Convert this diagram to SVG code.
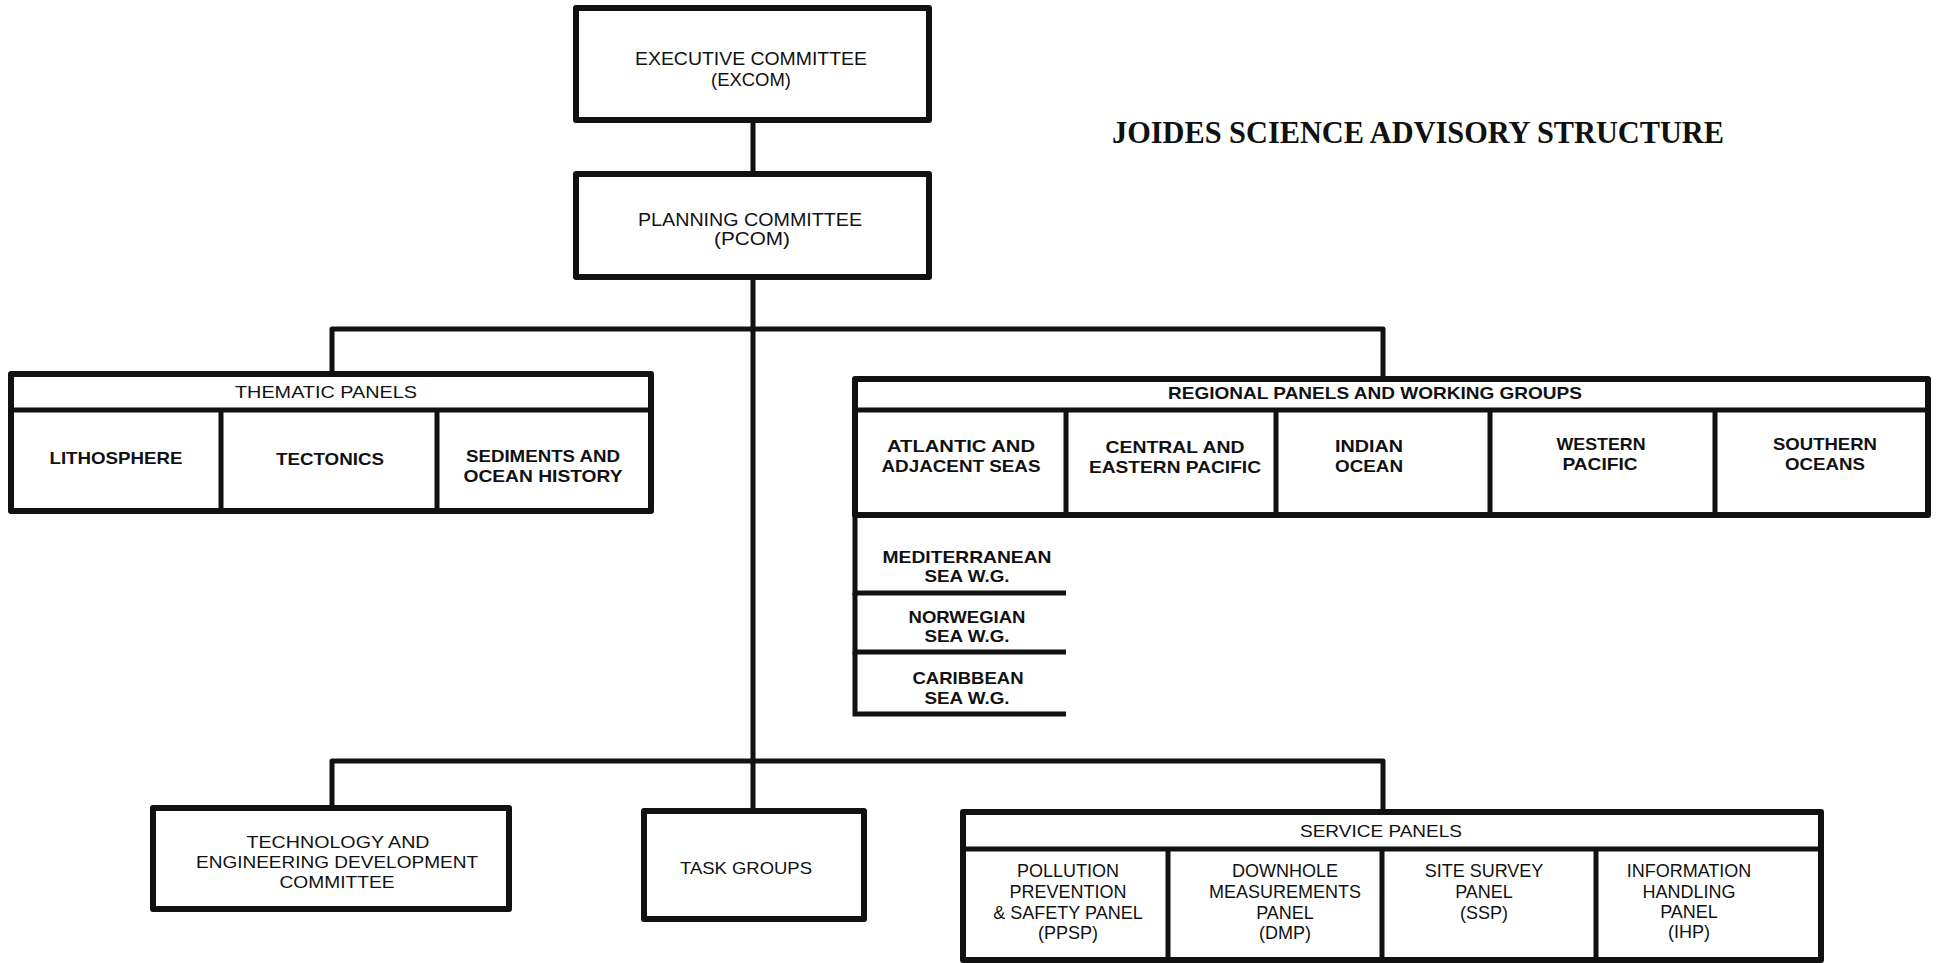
<svg xmlns="http://www.w3.org/2000/svg" width="1938" height="963" viewBox="0 0 1938 963">
<style>
.bx{fill:#fff;stroke:#111;stroke-width:6;stroke-linejoin:round}
.ln{fill:none;stroke:#111;stroke-width:5;stroke-linejoin:round}
.dv{fill:none;stroke:#111;stroke-width:5}
text{font-family:"Liberation Sans",Arial,sans-serif;font-size:17px;fill:#111;text-anchor:middle}
.b{font-weight:bold}
.s{font-size:18px}
.title{font-family:"Liberation Serif","Times New Roman",serif;font-size:31px;font-weight:bold}
</style>
<rect width="1938" height="963" fill="#fff"/>

<g id="connectors">
<path class="ln" d="M753,120 V174"/>
<path class="ln" d="M753,277 V811"/>
<path class="ln" d="M332,376 V329 H1383 V380"/>
<path class="ln" d="M332,808 V761 H1383 V812"/>
</g>

<g id="excom">
<rect class="bx" x="576" y="8" width="353" height="112"/>
<text x="751" y="65" textLength="232" lengthAdjust="spacingAndGlyphs" style="font-size:18px">EXECUTIVE COMMITTEE</text>
<text x="751" y="86" textLength="80" lengthAdjust="spacingAndGlyphs" style="font-size:18px">(EXCOM)</text>
</g>

<g id="pcom">
<rect class="bx" x="576" y="174" width="353" height="103"/>
<text x="750" y="226" textLength="224" lengthAdjust="spacingAndGlyphs" style="font-size:18px">PLANNING COMMITTEE</text>
<text x="752" y="245" textLength="76" lengthAdjust="spacingAndGlyphs" style="font-size:18px">(PCOM)</text>
</g>

<g id="thematic-panels">
<rect class="bx" x="11" y="374" width="640" height="137"/>
<path class="dv" d="M11,410 H651 M221,410 V511 M437,410 V511"/>
<text x="326" y="398" textLength="182" lengthAdjust="spacingAndGlyphs">THEMATIC PANELS</text>
<g id="lithosphere"><text class="b" x="116" y="464" textLength="133" lengthAdjust="spacingAndGlyphs">LITHOSPHERE</text></g>
<g id="tectonics"><text class="b" x="330" y="465" textLength="108" lengthAdjust="spacingAndGlyphs">TECTONICS</text></g>
<g id="sediments"><text class="b" x="543" y="462" textLength="154" lengthAdjust="spacingAndGlyphs">SEDIMENTS AND</text>
<text class="b" x="543" y="482" textLength="159" lengthAdjust="spacingAndGlyphs">OCEAN HISTORY</text></g>
</g>

<g id="regional-panels">
<rect class="bx" x="855" y="379" width="1073" height="136"/>
<path class="dv" d="M855,410 H1928 M1066,410 V515 M1276,410 V515 M1490,410 V515 M1715,410 V515"/>
<text class="b" x="1375" y="399" textLength="414" lengthAdjust="spacingAndGlyphs">REGIONAL PANELS AND WORKING GROUPS</text>
<g id="atlantic"><text class="b" x="961" y="452" textLength="148" lengthAdjust="spacingAndGlyphs">ATLANTIC AND</text>
<text class="b" x="961" y="472" textLength="159" lengthAdjust="spacingAndGlyphs">ADJACENT SEAS</text></g>
<g id="central-eastern-pacific"><text class="b" x="1175" y="453" textLength="139" lengthAdjust="spacingAndGlyphs">CENTRAL AND</text>
<text class="b" x="1175" y="473" textLength="172" lengthAdjust="spacingAndGlyphs">EASTERN PACIFIC</text></g>
<g id="indian"><text class="b" x="1369" y="452" textLength="68" lengthAdjust="spacingAndGlyphs">INDIAN</text>
<text class="b" x="1369" y="472" textLength="68" lengthAdjust="spacingAndGlyphs">OCEAN</text></g>
<g id="western-pacific"><text class="b" x="1601" y="450" textLength="89" lengthAdjust="spacingAndGlyphs">WESTERN</text>
<text class="b" x="1600" y="470" textLength="75" lengthAdjust="spacingAndGlyphs">PACIFIC</text></g>
<g id="southern"><text class="b" x="1825" y="450" textLength="104" lengthAdjust="spacingAndGlyphs">SOUTHERN</text>
<text class="b" x="1825" y="470" textLength="80" lengthAdjust="spacingAndGlyphs">OCEANS</text></g>
</g>

<g id="wg-mediterranean">
<path class="dv" d="M855,515 V593 H1066"/>
<text class="b" x="967" y="563" textLength="169" lengthAdjust="spacingAndGlyphs">MEDITERRANEAN</text>
<text class="b" x="967" y="582" textLength="85" lengthAdjust="spacingAndGlyphs">SEA W.G.</text>
</g>
<g id="wg-norwegian">
<path class="dv" d="M855,593 V652 H1066"/>
<text class="b" x="967" y="623" textLength="117" lengthAdjust="spacingAndGlyphs">NORWEGIAN</text>
<text class="b" x="967" y="642" textLength="85" lengthAdjust="spacingAndGlyphs">SEA W.G.</text>
</g>
<g id="wg-caribbean">
<path class="dv" d="M855,652 V714 H1066"/>
<text class="b" x="968" y="684" textLength="111" lengthAdjust="spacingAndGlyphs">CARIBBEAN</text>
<text class="b" x="967" y="704" textLength="85" lengthAdjust="spacingAndGlyphs">SEA W.G.</text>
</g>

<g id="ted">
<rect class="bx" x="153" y="808" width="356" height="101"/>
<text x="338" y="848" textLength="183" lengthAdjust="spacingAndGlyphs">TECHNOLOGY AND</text>
<text x="337" y="868" textLength="282" lengthAdjust="spacingAndGlyphs">ENGINEERING DEVELOPMENT</text>
<text x="337" y="888" textLength="115" lengthAdjust="spacingAndGlyphs">COMMITTEE</text>
</g>

<g id="task-groups">
<rect class="bx" x="644" y="811" width="220" height="108"/>
<text x="746" y="874" textLength="132" lengthAdjust="spacingAndGlyphs">TASK GROUPS</text>
</g>

<g id="service-panels">
<rect class="bx" x="963" y="812" width="858" height="148"/>
<path class="dv" d="M963,849 H1821 M1168,849 V960 M1382,849 V960 M1596,849 V960"/>
<text x="1381" y="837" textLength="162" lengthAdjust="spacingAndGlyphs">SERVICE PANELS</text>
<g id="ppsp"><text class="s" x="1068" y="877">POLLUTION</text>
<text class="s" x="1068" y="898">PREVENTION</text>
<text class="s" x="1068" y="919">&amp; SAFETY PANEL</text>
<text class="s" x="1068" y="939">(PPSP)</text></g>
<g id="dmp"><text class="s" x="1285" y="877">DOWNHOLE</text>
<text class="s" x="1285" y="898">MEASUREMENTS</text>
<text class="s" x="1285" y="919">PANEL</text>
<text class="s" x="1285" y="939">(DMP)</text></g>
<g id="ssp"><text class="s" x="1484" y="877">SITE SURVEY</text>
<text class="s" x="1484" y="898">PANEL</text>
<text class="s" x="1484" y="919">(SSP)</text></g>
<g id="ihp"><text class="s" x="1689" y="877">INFORMATION</text>
<text class="s" x="1689" y="898">HANDLING</text>
<text class="s" x="1689" y="918">PANEL</text>
<text class="s" x="1689" y="938">(IHP)</text></g>
</g>

<g id="title">
<text class="title" x="1418" y="143" textLength="612" lengthAdjust="spacingAndGlyphs">JOIDES SCIENCE ADVISORY STRUCTURE</text>
</g>
</svg>
